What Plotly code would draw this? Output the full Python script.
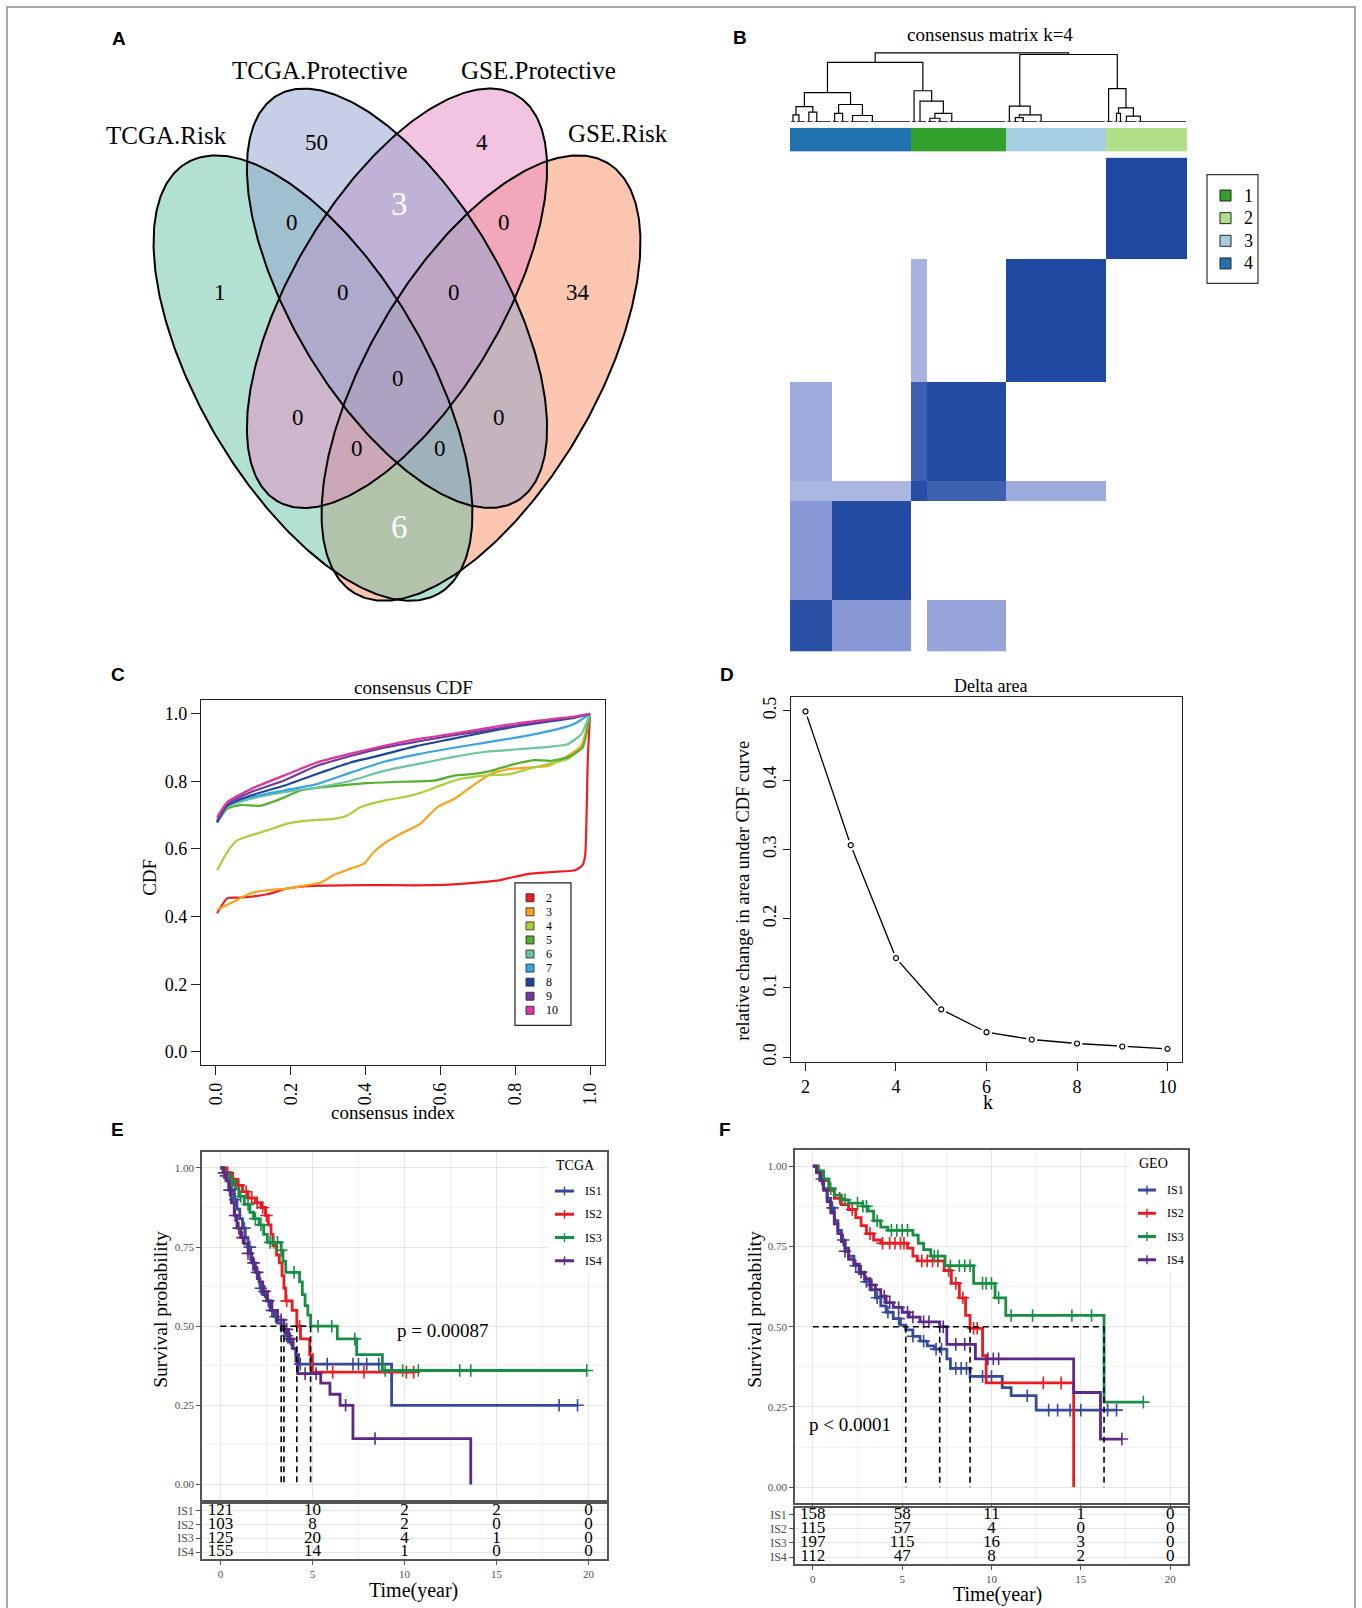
import numpy as np
import plotly.graph_objects as go

W, H = 1362, 1608
SERIF = "Liberation Serif, Times New Roman, serif"
SANS = "Liberation Sans, Arial, sans-serif"

# ---------------- DATA ----------------
# A: Venn
venn_sets = ["TCGA.Risk", "TCGA.Protective", "GSE.Protective", "GSE.Risk"]
venn_fill = ["#66c2a5", "#8da0cb", "#e78ac3", "#fc8d62"]
venn_fill_order = [3, 0, 2, 1]
venn_regions = ["1", "2", "3", "4", "12", "23", "34", "123", "234", "1234", "13", "24", "134", "124", "14"]
venn_counts = [1, 50, 4, 34, 0, 3, 0, 0, 0, 0, 0, 0, 0, 0, 6]
venn_white = ["23", "14"]

# B: consensus matrix (groups of ordered samples); rows = y (bottom to top), cols = x
hm_groups = ["4a", "4b", "1a", "1b", "3", "2"]
hm_sizes = [21, 40, 8, 40, 50, 41]
hm_cluster = [4, 4, 1, 1, 3, 2]
hm_block = [
    [0.94, 0.52, 0.00, 0.45, 0.00, 0.00],
    [0.52, 0.97, 0.00, 0.00, 0.00, 0.00],
    [0.36, 0.36, 0.96, 0.85, 0.42, 0.00],
    [0.42, 0.00, 0.85, 0.97, 0.00, 0.00],
    [0.00, 0.00, 0.38, 0.00, 0.99, 0.00],
    [0.00, 0.00, 0.00, 0.00, 0.00, 0.99],
]
cluster_names = ["1", "2", "3", "4"]
cluster_colors = ["#33a02c", "#b2df8a", "#a6cee3", "#2372b0"]
# dendrogram: (height, left, right); leaves are sample ranges (start, end)
dendro = (1.0,
          (0.864,
           (0.424,
            (0.22, (0.10, (0, 3), (3, 8)), (0.14, (8, 12), (12, 21))),
            (0.25, (0.12, (21, 25), (25, 30)), (0.09, (30, 40), (40, 61)))),
           (0.45, (61, 64), (0.30, (64, 69), (0.12, (0.05, (69, 74), (74, 80)), (80, 109))))),
          (0.977,
           (0.226, (109, 112), (0.10, (0.06, (112, 116), (116, 125)), (125, 159))),
           (0.48, (159, 163), (0.20, (0.12, (163, 165), (165, 168)), (0.08, (168, 175), (175, 200))))))

# C: consensus CDF
cdf_k = ["2", "3", "4", "5", "6", "7", "8", "9", "10"]
cdf_colors = ["#ee1d23", "#f7a31c", "#a9d03a", "#55b030", "#6cc69b", "#3aa5e0", "#1e4698", "#6d3d9c", "#df369b"]
cdf_x_k2 = [0.003, 0.03, 0.065, 0.137, 0.19, 0.244, 0.4, 0.58, 0.72, 0.76, 0.8, 0.84, 0.9, 0.96, 0.98, 0.987, 0.994, 1.0]
cdf_y_k2 = [0.41, 0.454, 0.456, 0.466, 0.483, 0.49, 0.493, 0.493, 0.503, 0.508, 0.518, 0.527, 0.532, 0.537, 0.552, 0.581, 0.866, 1.0]
cdf_x_k3 = [0.003, 0.047, 0.092, 0.137, 0.19, 0.244, 0.28, 0.315, 0.36, 0.396, 0.422, 0.449, 0.494, 0.547, 0.592, 0.637, 0.663, 0.699, 0.735, 0.779, 0.833, 0.887, 0.94, 0.976, 1.0]
cdf_y_k3 = [0.42, 0.444, 0.469, 0.478, 0.483, 0.493, 0.501, 0.523, 0.542, 0.557, 0.591, 0.616, 0.645, 0.675, 0.724, 0.748, 0.768, 0.797, 0.822, 0.836, 0.841, 0.846, 0.875, 0.904, 1.0]
cdf_x_k4 = [0.003, 0.03, 0.056, 0.092, 0.137, 0.19, 0.244, 0.315, 0.351, 0.387, 0.449, 0.521, 0.565, 0.61, 0.654, 0.717, 0.788, 0.833, 0.887, 0.94, 0.98, 1.0]
cdf_y_k4 = [0.537, 0.591, 0.625, 0.64, 0.655, 0.675, 0.684, 0.689, 0.699, 0.724, 0.743, 0.758, 0.773, 0.792, 0.807, 0.817, 0.822, 0.836, 0.851, 0.866, 0.905, 1.0]
cdf_x_k5 = [0.003, 0.03, 0.065, 0.119, 0.172, 0.226, 0.28, 0.342, 0.404, 0.494, 0.583, 0.637, 0.69, 0.735, 0.797, 0.851, 0.896, 0.94, 0.98, 1.0]
cdf_y_k5 = [0.679, 0.719, 0.73, 0.728, 0.748, 0.773, 0.782, 0.789, 0.795, 0.799, 0.802, 0.817, 0.822, 0.831, 0.851, 0.863, 0.861, 0.871, 0.9, 1.0]
cdf_x_k6 = [0.003, 0.03, 0.092, 0.181, 0.27, 0.36, 0.449, 0.538, 0.628, 0.717, 0.806, 0.896, 0.94, 0.976, 1.0]
cdf_y_k6 = [0.679, 0.724, 0.748, 0.768, 0.782, 0.802, 0.831, 0.851, 0.871, 0.887, 0.895, 0.903, 0.91, 0.939, 1.0]
cdf_x_hi = [0.003, 0.03, 0.092, 0.181, 0.27, 0.36, 0.449, 0.538, 0.628, 0.717, 0.806, 0.896, 0.958, 1.0]
cdf_y_k7 = [0.679, 0.728, 0.753, 0.773, 0.792, 0.826, 0.858, 0.88, 0.898, 0.914, 0.93, 0.95, 0.97, 1.0]
cdf_y_k8 = [0.679, 0.728, 0.758, 0.787, 0.822, 0.856, 0.88, 0.905, 0.925, 0.945, 0.963, 0.978, 0.988, 1.0]
cdf_y_k9 = [0.684, 0.733, 0.768, 0.802, 0.846, 0.875, 0.9, 0.918, 0.935, 0.95, 0.966, 0.981, 0.99, 1.0]
cdf_y_k10 = [0.694, 0.738, 0.777, 0.817, 0.856, 0.882, 0.905, 0.925, 0.94, 0.956, 0.972, 0.984, 0.992, 1.0]

# D: delta area
d_k = [2, 3, 4, 5, 6, 7, 8, 9, 10]
d_delta = [0.499, 0.306, 0.143, 0.069, 0.036, 0.0255, 0.0197, 0.0154, 0.012]

# E/F survival
groups = ["IS1", "IS2", "IS3", "IS4"]
group_colors = ["#36499a", "#e81c22", "#168f45", "#5a2a84"]
risk_times = [0, 5, 10, 15, 20]

e_is1_time = [0, 0.15, 0.3, 0.45, 0.6, 0.75, 0.9, 1.05, 1.2, 1.35, 1.5, 1.65, 1.8, 2.0, 2.15, 2.3, 2.5, 2.7, 2.9, 3.1, 3.3, 3.5, 3.7, 3.9, 4.1, 4.25, 9.3]
e_is1_surv = [1, 0.99, 0.975, 0.955, 0.93, 0.9, 0.87, 0.84, 0.81, 0.78, 0.75, 0.71, 0.68, 0.65, 0.62, 0.6, 0.58, 0.55, 0.53, 0.51, 0.49, 0.47, 0.45, 0.43, 0.41, 0.38, 0.25]
e_is1_cens = [0.3, 0.8, 1.3, 1.6, 2.2, 2.6, 3.0, 3.6, 4.34, 4.88, 5.8, 7.2, 7.5, 7.95, 8.6, 18.4, 19.4]
e_is2_time = [0, 0.3, 0.6, 0.9, 1.2, 1.5, 1.9, 2.2, 2.45, 2.6, 2.75, 2.85, 3.05, 3.2, 3.35, 3.45, 3.55, 3.9, 4.15, 4.35, 4.85, 5.0]
e_is2_surv = [1, 0.985, 0.965, 0.945, 0.925, 0.905, 0.89, 0.875, 0.85, 0.82, 0.79, 0.755, 0.725, 0.7, 0.66, 0.62, 0.58, 0.55, 0.5, 0.46, 0.41, 0.355]
e_is2_cens = [0.4, 0.7, 1.0, 1.4, 1.7, 2.0, 2.3, 2.5, 3.6, 4.3, 6.1, 7.8, 10.1, 10.5]
e_is3_time = [0, 0.2, 0.5, 0.8, 1.0, 1.3, 1.6, 1.8, 2.1, 2.35, 2.55, 3.3, 3.4, 3.55, 4.3, 4.45, 4.6, 4.75, 4.9, 6.35, 7.4, 8.8]
e_is3_surv = [1, 0.985, 0.96, 0.935, 0.91, 0.885, 0.86, 0.84, 0.82, 0.79, 0.765, 0.74, 0.705, 0.67, 0.64, 0.6, 0.565, 0.535, 0.5, 0.46, 0.41, 0.36]
e_is3_cens = [0.2, 0.6, 1.1, 1.5, 1.9, 2.2, 2.7, 2.9, 3.1, 3.3, 4.0, 5.3, 6.05, 7.3, 8.95, 9.9, 10.75, 13.0, 13.6, 19.9]
e_is4_time = [0, 0.15, 0.3, 0.45, 0.6, 0.75, 0.9, 1.1, 1.3, 1.5, 1.7, 1.9, 2.1, 2.3, 2.55, 2.8, 3.1, 3.45, 3.7, 3.95, 4.1, 4.2, 5.45, 5.95, 6.5, 7.2, 13.6]
e_is4_surv = [1, 0.985, 0.96, 0.93, 0.89, 0.85, 0.81, 0.78, 0.76, 0.73, 0.7, 0.67, 0.64, 0.61, 0.58, 0.55, 0.52, 0.49, 0.46, 0.43, 0.39, 0.35, 0.32, 0.285, 0.25, 0.145, 0.0]
e_is4_cens = [0.2, 0.5, 0.8, 1.0, 1.2, 1.5, 1.8, 2.0, 2.4, 2.8, 3.3, 3.6, 3.8, 4.6, 5.2, 6.8, 8.4]
e_risk_is1 = [121, 10, 2, 2, 0]
e_risk_is2 = [103, 8, 2, 0, 0]
e_risk_is3 = [125, 20, 4, 1, 0]
e_risk_is4 = [155, 14, 1, 0, 0]

f_is1_time = [0, 0.2, 0.4, 0.6, 0.8, 1.0, 1.2, 1.4, 1.6, 1.8, 2.0, 2.3, 2.6, 2.9, 3.2, 3.5, 3.8, 4.1, 4.5, 4.9, 5.2, 5.6, 6.0, 6.4, 6.8, 7.5, 7.7, 8.8, 10.6, 11.1, 12.5]
f_is1_surv = [1, 0.985, 0.96, 0.93, 0.9, 0.87, 0.83, 0.8, 0.77, 0.745, 0.72, 0.69, 0.665, 0.64, 0.615, 0.59, 0.565, 0.545, 0.525, 0.505, 0.49, 0.47, 0.455, 0.44, 0.43, 0.4, 0.37, 0.345, 0.31, 0.285, 0.24]
f_is1_cens = [0.5, 1.1, 1.7, 2.4, 3.0, 3.6, 4.2, 4.8, 5.6, 6.2, 6.9, 7.2, 8.0, 8.3, 8.6, 9.5, 10.0, 12.0, 13.2, 13.7, 14.4, 15.0, 16.5, 17.0]
f_is2_time = [0, 0.3, 0.6, 0.9, 1.2, 1.6, 2.0, 2.4, 2.7, 3.0, 3.4, 3.8, 5.3, 5.6, 5.85, 7.35, 7.75, 8.2, 8.55, 8.8, 9.5, 9.7, 14.6]
f_is2_surv = [1, 0.98, 0.955, 0.925, 0.9, 0.88, 0.865, 0.84, 0.815, 0.79, 0.77, 0.76, 0.745, 0.72, 0.705, 0.675, 0.635, 0.59, 0.535, 0.495, 0.41, 0.325, 0.0]
f_is2_cens = [1.5, 2.2, 3.2, 3.9, 4.3, 4.6, 4.9, 5.1, 6.1, 6.4, 6.7, 7.0, 7.6, 8.0, 8.4, 9.0, 9.2, 12.9, 13.9]
f_is3_time = [0, 0.3, 0.6, 0.9, 1.2, 1.6, 2.0, 2.8, 3.1, 3.4, 3.8, 4.2, 5.6, 5.9, 6.2, 6.6, 7.4, 9.0, 10.2, 10.8, 16.3]
f_is3_surv = [1, 0.985, 0.96, 0.93, 0.91, 0.895, 0.885, 0.875, 0.86, 0.83, 0.81, 0.8, 0.785, 0.76, 0.74, 0.72, 0.69, 0.635, 0.59, 0.535, 0.265]
f_is3_cens = [1.0, 1.8, 2.5, 2.8, 3.0, 3.6, 4.4, 4.7, 5.0, 5.3, 6.8, 7.0, 7.7, 8.2, 8.5, 8.8, 9.5, 9.7, 10.0, 10.4, 11.1, 12.3, 14.5, 15.6, 18.5]
f_is4_time = [0, 0.2, 0.4, 0.6, 0.8, 1.0, 1.2, 1.4, 1.6, 1.8, 2.0, 2.3, 2.6, 2.9, 3.2, 3.5, 3.8, 4.1, 4.5, 5.0, 5.4, 6.0, 7.1, 7.5, 9.1, 14.6, 16.1]
f_is4_surv = [1, 0.98, 0.955, 0.925, 0.89, 0.855, 0.82, 0.79, 0.765, 0.735, 0.71, 0.695, 0.67, 0.65, 0.63, 0.615, 0.595, 0.575, 0.56, 0.545, 0.53, 0.515, 0.5, 0.445, 0.4, 0.295, 0.15]
f_is4_cens = [1.8, 2.7, 3.3, 4.0, 4.3, 4.8, 5.3, 5.6, 6.2, 6.5, 7.3, 8.0, 8.5, 9.8, 10.1, 10.4, 17.3]
f_risk_is1 = [158, 58, 11, 1, 0]
f_risk_is2 = [115, 57, 4, 0, 0]
f_risk_is3 = [197, 115, 16, 3, 0]
f_risk_is4 = [112, 47, 8, 2, 0]

# ---------------- LAYOUT CONSTANTS ----------------
VENN_ELL = [(313, 378, 250, 113, 59.7), (397, 298, 236, 105, 59.5),
            (397, 298, 236, 105, 120.5), (481, 378, 250, 113, 120.3)]
VENN_SET_POS = [(166, 135), (320, 70), (538, 70), (618, 133)]
VENN_REG_POS = {"1": (220, 292), "2": (316, 142), "3": (482, 142), "4": (578, 292),
                "12": (292, 222), "23": (399, 204), "34": (504, 222), "123": (343, 292),
                "234": (454, 292), "1234": (398, 378), "13": (298, 418), "24": (499, 418),
                "134": (357, 449), "124": (440, 449), "14": (399, 527)}


def PX(x):
    return x / W


def PY(y):
    return 1 - y / H


def hexrgba(h, a):
    h = h.lstrip("#")
    return "rgba(%d,%d,%d,%.2f)" % (int(h[0:2], 16), int(h[2:4], 16), int(h[4:6], 16), a)


fig = go.Figure()
axes = {}
shapes = []
annos = []


def add_axes(n, xd, yd, xkw, ykw):
    s = "" if n == 1 else str(n)
    axes["xaxis" + s] = dict(domain=[PX(xd[0]), PX(xd[1])], anchor="y" + s, **xkw)
    axes["yaxis" + s] = dict(domain=[PY(yd[1]), PY(yd[0])], anchor="x" + s, **ykw)
    return "x" + s, "y" + s


def text(x, y, s, size, family=SERIF, color="black", angle=0, xanchor="center", yanchor="middle", ref=("paper", "paper")):
    if ref[0] == "paper":
        x, y = PX(x), PY(y)
    annos.append(dict(x=x, y=y, xref=ref[0], yref=ref[1], text=s, showarrow=False, textangle=angle,
                      font=dict(family=family, size=size, color=color), xanchor=xanchor, yanchor=yanchor))


HID = dict(visible=False, showgrid=False, zeroline=False)

# ---------------- A: VENN ----------------
xa, ya = add_axes(1, (0, 700), (0, 640), dict(range=[0, 700], **HID), dict(range=[640, 0], **HID))
tt = np.linspace(0, 2 * np.pi, 361)
ell_pts = []
for (cx, cy, a, b, ang) in VENN_ELL:
    th = np.radians(ang)
    ex = cx + a * np.cos(tt) * np.cos(th) - b * np.sin(tt) * np.sin(th)
    ey = cy + a * np.cos(tt) * np.sin(th) + b * np.sin(tt) * np.cos(th)
    ell_pts.append((ex, ey))
for i in venn_fill_order:
    ex, ey = ell_pts[i]
    fig.add_trace(go.Scatter(x=ex, y=ey, mode="lines", fill="toself", fillcolor=hexrgba(venn_fill[i], 0.5),
                             line=dict(width=0), xaxis=xa, yaxis=ya, hoverinfo="skip"))
for ex, ey in ell_pts:
    fig.add_trace(go.Scatter(x=ex, y=ey, mode="lines", line=dict(color="black", width=2),
                             xaxis=xa, yaxis=ya, hoverinfo="skip"))
for name, (x, y) in zip(venn_sets, VENN_SET_POS):
    text(x, y, name, 25, ref=("x", "y"))
for reg, cnt in zip(venn_regions, venn_counts):
    x, y = VENN_REG_POS[reg]
    if reg in venn_white:
        text(x, y, str(cnt), 33, color="white", ref=("x", "y"))
    else:
        text(x, y, str(cnt), 23, ref=("x", "y"))

# ---------------- B: CONSENSUS MATRIX ----------------
N = int(sum(hm_sizes))
gidx = np.repeat(np.arange(len(hm_sizes)), hm_sizes)
Z = np.array(hm_block)[np.ix_(gidx, gidx)]
xb, yb = add_axes(2, (790, 1187), (157, 652), dict(range=[-0.5, N - 0.5], **HID), dict(range=[-0.5, N - 0.5], **HID))
fig.add_trace(go.Heatmap(z=Z, x=np.arange(N), y=np.arange(N),
                         colorscale=[[0, "#ffffff"], [0.5, "#8c9bd6"], [1, "#1d47a0"]],
                         zmin=0, zmax=1, showscale=False, xaxis=xb, yaxis=yb, hoverinfo="skip"))
# annotation bar
samp_cluster = np.repeat(np.array(hm_cluster), hm_sizes)
cs = []
for i, c in enumerate(cluster_colors):
    cs += [[i / 4, c], [(i + 1) / 4, c]]
xc, yc = add_axes(3, (790, 1187), (127, 151), dict(range=[-0.5, N - 0.5], **HID), dict(range=[-0.5, 0.5], **HID))
fig.add_trace(go.Heatmap(z=[samp_cluster], x=np.arange(N), y=[0], colorscale=cs, zmin=0.5, zmax=4.5,
                         showscale=False, xaxis=xc, yaxis=yc, hoverinfo="skip"))
# dendrogram
xd, yd = add_axes(4, (790, 1187), (50, 121), dict(range=[-0.5, N - 0.5], **HID), dict(range=[0, 1.03], **HID))
dx, dy = [], []


def walk(node):
    if len(node) == 2:
        s, e = node
        dx.extend([s, e - 1, None])
        dy.extend([0, 0, None])
        return s + 1.0, 0.0
    h, l, r = node
    xl, hl = walk(l)
    xr, hr = walk(r)
    dx.extend([xl, xl, xr, xr, None])
    dy.extend([hl, h, h, hr, None])
    return (xl + xr) / 2, h


walk(dendro)
fig.add_trace(go.Scatter(x=dx, y=dy, mode="lines", line=dict(color="black", width=1.2), xaxis=xd, yaxis=yd,
                         hoverinfo="skip"))
text(990, 34, "consensus matrix k=4", 19)
# legend B
shapes.append(dict(type="rect", xref="paper", yref="paper", x0=PX(1207), x1=PX(1258), y0=PY(283), y1=PY(174),
                   line=dict(color="#333", width=1.2), fillcolor="white"))
for i, name in enumerate(cluster_names):
    yy = 195 + i * 22.7
    shapes.append(dict(type="rect", xref="paper", yref="paper", x0=PX(1220), x1=PX(1231), y0=PY(yy + 5.5),
                       y1=PY(yy - 5.5), line=dict(color="#222", width=1), fillcolor=cluster_colors[i]))
    text(1248, yy, name, 18)

# ---------------- C: CDF ----------------
rbase = dict(showline=True, mirror=True, linecolor="#222", linewidth=1.2, showgrid=False, zeroline=False,
             ticks="outside", tickcolor="#222", tickwidth=1.2, tickfont=dict(family=SERIF, size=18, color="black"))
xC, yC = add_axes(5, (201, 605), (701, 1067),
                  dict(range=[-0.04, 1.04], tickvals=[0, 0.2, 0.4, 0.6, 0.8, 1.0], ticktext=["0.0", "0.2", "0.4", "0.6", "0.8", "1.0"],
                       tickangle=-90, ticklen=9, **rbase),
                  dict(range=[-0.04, 1.04], tickvals=[0, 0.2, 0.4, 0.6, 0.8, 1.0], ticktext=["0.0", "0.2", "0.4", "0.6", "0.8", "1.0"],
                       ticklen=9, **rbase))
cdf_xs = [cdf_x_k2, cdf_x_k3, cdf_x_k4, cdf_x_k5, cdf_x_k6, cdf_x_hi, cdf_x_hi, cdf_x_hi, cdf_x_hi]
cdf_ys = [cdf_y_k2, cdf_y_k3, cdf_y_k4, cdf_y_k5, cdf_y_k6, cdf_y_k7, cdf_y_k8, cdf_y_k9, cdf_y_k10]
for xs, ys, col in zip(cdf_xs, cdf_ys, cdf_colors):
    fig.add_trace(go.Scatter(x=xs, y=ys, mode="lines", line=dict(color=col, width=2.2, shape="spline", smoothing=0.5),
                             xaxis=xC, yaxis=yC, hoverinfo="skip"))
text(413, 688, "consensus CDF", 19)
text(393, 1114, "consensus index", 19)
text(150, 879, "CDF", 19, angle=-90)
shapes.append(dict(type="rect", xref="paper", yref="paper", x0=PX(515), x1=PX(571), y0=PY(1027), y1=PY(884),
                   line=dict(color="#222", width=1.2), fillcolor="white"))
for i, (k, col) in enumerate(zip(cdf_k, cdf_colors)):
    yy = 899 + i * 14.1
    shapes.append(dict(type="rect", xref="paper", yref="paper", x0=PX(526), x1=PX(534), y0=PY(yy + 4), y1=PY(yy - 4),
                       line=dict(color="#222", width=0.8), fillcolor=col))
    text(544, yy, k, 12, xanchor="left")

# ---------------- D: DELTA AREA ----------------
xD, yD = add_axes(6, (791, 1182), (698, 1064),
                  dict(range=[1.68, 10.32], tickvals=[2, 4, 6, 8, 10], ticklen=8, **rbase),
                  dict(range=[-0.0075, 0.5195], tickvals=[0, 0.1, 0.2, 0.3, 0.4, 0.5],
                       ticktext=["0.0", "0.1", "0.2", "0.3", "0.4", "0.5"], tickangle=-90, ticklen=7, **rbase))
fig.add_trace(go.Scatter(x=d_k, y=d_delta, mode="lines", line=dict(color="black", width=1.3), xaxis=xD, yaxis=yD,
                         hoverinfo="skip"))
fig.add_trace(go.Scatter(x=d_k, y=d_delta, mode="markers", marker=dict(color="white", size=11), xaxis=xD, yaxis=yD,
                         hoverinfo="skip"))
fig.add_trace(go.Scatter(x=d_k, y=d_delta, mode="markers",
                         marker=dict(color="white", size=5, line=dict(color="black", width=1.2)), xaxis=xD, yaxis=yD,
                         hoverinfo="skip"))
text(990, 687, "Delta area", 18)
text(988, 1104, "k", 20)
text(743, 892, "relative change in area under CDF curve", 18.5, angle=-90)

# ---------------- E/F: SURVIVAL ----------------
sbase = dict(showline=True, mirror=True, linecolor="#555", linewidth=1.5, showgrid=True, gridcolor="#e6e6e6",
             gridwidth=1.2, zeroline=False, ticks="outside", ticklen=4, tickcolor="#555", tickwidth=1.2,
             tickfont=dict(family=SERIF, size=11, color="#4d4d4d"))
sx_kw = dict(range=[-1, 21], tickvals=risk_times,
             minor=dict(tick0=0, dtick=2.5, showgrid=True, gridcolor="#f3f3f3", gridwidth=1), **sbase)
sy_kw = dict(range=[-0.05, 1.05], tickvals=[0, 0.25, 0.5, 0.75, 1.0], ticktext=["0.00", "0.25", "0.50", "0.75", "1.00"],
             minor=dict(tick0=0, dtick=0.125, showgrid=True, gridcolor="#f3f3f3", gridwidth=1), **sbase)


def step_val(times, survs, t):
    v = survs[0]
    for ti, si in zip(times, survs):
        if ti <= t:
            v = si
    return v


def survival_panel(n, xdom, ydom, tdom, curves, risks, legend_title, legend_box, pval, pval_pos, ylab_pos, tlab_pos):
    xs_, ys_ = add_axes(n, xdom, ydom, dict(showticklabels=False, **sx_kw), dict(**sy_kw))
    xt_, yt_ = add_axes(n + 1, xdom, tdom, dict(showticklabels=True, **sx_kw),
                        dict(range=[4.5, 0.55], tickvals=[1, 2, 3, 4], ticktext=groups,
                             **{k: v for k, v in sbase.items() if k not in ("tickfont",)},
                             tickfont=dict(family=SERIF, size=12, color="#4d4d4d")))
    meds = []
    for (tm, sv, cens), col in zip(curves, group_colors):
        end = max(max(cens), tm[-1])
        fig.add_trace(go.Scatter(x=list(tm) + [end], y=list(sv) + [sv[-1]], mode="lines",
                                 line=dict(color=col, width=2.8, shape="hv"), xaxis=xs_, yaxis=ys_, hoverinfo="skip"))
        cy = [step_val(tm, sv, c) for c in cens]
        fig.add_trace(go.Scatter(x=cens, y=cy, mode="markers",
                                 marker=dict(symbol="cross-thin", size=9, color=col, line=dict(width=1.6, color=col)),
                                 xaxis=xs_, yaxis=ys_, hoverinfo="skip"))
        med = next((t for t, s in zip(tm, sv) if s <= 0.5), None)
        if med is not None:
            meds.append(med)
    dash = dict(color="black", width=1.6, dash="6px,4px")
    fig.add_trace(go.Scatter(x=[0, max(meds)], y=[0.5, 0.5], mode="lines", line=dash, xaxis=xs_, yaxis=ys_,
                             hoverinfo="skip"))
    for m in meds:
        fig.add_trace(go.Scatter(x=[m, m], y=[0.5, 0], mode="lines", line=dash, xaxis=xs_, yaxis=ys_,
                                 hoverinfo="skip"))
    for r, (vals, g) in enumerate(zip(risks, groups)):
        fig.add_trace(go.Scatter(x=risk_times, y=[r + 1] * len(risk_times), mode="text", text=[str(v) for v in vals],
                                 textfont=dict(family=SERIF, size=17, color="black"), xaxis=xt_, yaxis=yt_,
                                 hoverinfo="skip", cliponaxis=False))
    # legend
    lx0, ly0, lx1, ly1, linex0, linex1, textx, rows = legend_box
    shapes.append(dict(type="rect", xref="paper", yref="paper", x0=PX(lx0), x1=PX(lx1), y0=PY(ly1), y1=PY(ly0),
                       line=dict(width=0), fillcolor="white", layer="above"))
    text(linex0 - 1, ly0 + 11, legend_title, 14, xanchor="left")
    for i, (g, col) in enumerate(zip(groups, group_colors)):
        yy = rows[0] + i * rows[1]
        shapes.append(dict(type="line", xref="paper", yref="paper", x0=PX(linex0), x1=PX(linex1), y0=PY(yy), y1=PY(yy),
                           line=dict(color=col, width=3), layer="above"))
        xm = (linex0 + linex1) / 2
        shapes.append(dict(type="line", xref="paper", yref="paper", x0=PX(xm), x1=PX(xm), y0=PY(yy - 4.5), y1=PY(yy + 4.5),
                           line=dict(color=col, width=1.4), layer="above"))
        text(textx, yy, g, 12, xanchor="left")
    text(pval_pos[0], pval_pos[1], pval, 19)
    text(ylab_pos[0], ylab_pos[1], "Survival probability", 19.5, angle=-90)
    text(tlab_pos[0], tlab_pos[1], "Time(year)", 20)


survival_panel(7, (202, 607), (1154, 1503), (1507, 1562),
               [(e_is1_time, e_is1_surv, e_is1_cens), (e_is2_time, e_is2_surv, e_is2_cens),
                (e_is3_time, e_is3_surv, e_is3_cens), (e_is4_time, e_is4_surv, e_is4_cens)],
               [e_risk_is1, e_risk_is2, e_risk_is3, e_risk_is4], "TCGA",
               (548, 1156, 605, 1276, 555, 574, 583, (1193, 23.3)), "p = 0.00087", (443, 1333), (161, 1312), (413, 1593))
survival_panel(9, (795, 1188), (1152, 1506), (1511, 1567),
               [(f_is1_time, f_is1_surv, f_is1_cens), (f_is2_time, f_is2_surv, f_is2_cens),
                (f_is3_time, f_is3_surv, f_is3_cens), (f_is4_time, f_is4_surv, f_is4_cens)],
               [f_risk_is1, f_risk_is2, f_risk_is3, f_risk_is4], "GEO",
               (1130, 1154, 1186, 1274, 1138, 1156, 1165, (1192, 23.3)), "p < 0.0001", (850, 1427), (755, 1312), (997, 1597))

# panel letters
for lab, (x, y) in zip(["A", "B", "C", "D", "E", "F"],
                       [(119, 38), (740, 37), (118, 675), (727, 675), (118, 1131), (725, 1131)]):
    text(x, y, "<b>%s</b>" % lab, 19, family=SANS)

# outer frame
shapes.append(dict(type="rect", xref="paper", yref="paper", x0=PX(7), x1=PX(1355), y0=PY(1640), y1=PY(6),
                   line=dict(color="#8a8a8a", width=1.5), fillcolor="rgba(0,0,0,0)", layer="above"))

fig.update_layout(width=W, height=H, margin=dict(l=0, r=0, t=0, b=0), paper_bgcolor="white", plot_bgcolor="white",
                  showlegend=False, shapes=shapes, annotations=annos, **axes)
fig.write_html("out.html", config={"displayModeBar": False},
               post_script="document.body.style.margin='0px';document.body.style.padding='0px';document.body.style.overflow='hidden';")
